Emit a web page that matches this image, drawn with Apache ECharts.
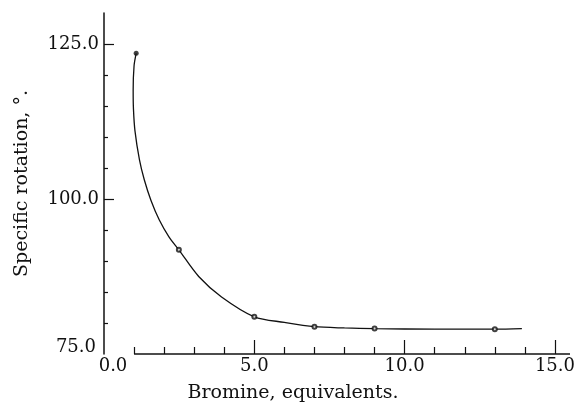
<!DOCTYPE html>
<html>
<head>
<meta charset="utf-8">
<script src="https://cdn.jsdelivr.net/npm/echarts@6/dist/echarts.min.js"></script>
<style>
  html, body { margin: 0; padding: 0; background: #fff; }
  #chart { width: 578px; height: 413px; }
</style>
</head>
<body>
<div id="chart"></div>
<script>
// curve (bromine equivalents vs specific rotation)
const curveX = [1.07, 1.00, 0.97, 0.98, 1.03, 1.18, 1.34, 1.56, 1.84, 2.16, 2.49, 3.15, 3.91, 5.00, 6.00, 7.00, 8.00, 9.00, 11.0, 13.0, 13.9];
const curveY = [123.5, 121.5, 117.5, 114.5, 111.0, 106.3, 103.1, 99.8, 96.6, 93.9, 91.8, 87.5, 84.2, 81.0, 80.1, 79.4, 79.2, 79.1, 79.0, 79.0, 79.1];

// small open circles = measured points
const pointX = [2.49, 5.0, 7.0, 9.0, 13.0];
const pointY = [91.8, 81.0, 79.4, 79.1, 79.0];

// first reading (filled dot at top)
const startPoint = [1.07, 123.5];

// axis ticks / labels
const xLabelValues = [0, 5, 10, 15];
const xMajorTicks = [5, 10, 15];
const xMinorTicks = [1, 2, 3, 4, 6, 7, 8, 9, 11, 12, 13, 14];
const yLabelValues = [75, 100, 125];
const yMajorTicks = [100, 125];
const yMinorTicks = [80, 85, 90, 95, 105, 110, 115, 120];

// x axis baseline starts at 1 equivalent
const xBaseline = [1, 15.5];
const yBase = 75;

const FONT = 'DejaVu Serif';
const INK = '#111';

const chart = echarts.init(document.getElementById('chart'), null, { renderer: 'canvas' });

const commonX = { type: 'value', min: 0, max: 15.5, splitLine: { show: false }, axisLine: { show: false } };
const commonY = { type: 'value', min: 75, max: 130, splitLine: { show: false } };
const labelFont = { fontFamily: FONT, fontSize: 18, color: INK };

const option = {
  backgroundColor: '#fff',
  animation: false,
  grid: { left: 104, right: 0, top: 13, bottom: 59 },
  xAxis: [
    {
      ...commonX,
      name: 'Bromine, equivalents.',
      nameLocation: 'middle',
      nameGap: 30,
      nameTextStyle: { fontFamily: FONT, fontSize: 19, color: INK, padding: [0, 88, 0, 0] },
      axisTick: { show: true, inside: true, length: 7, customValues: xMinorTicks, lineStyle: { color: INK, width: 1.2 } },
      axisLabel: {
        customValues: xLabelValues,
        margin: 3,
        ...labelFont,
        // the 0.0 label sits a little right of the y axis in the original
        formatter: v => v === 0 ? '{z|' + v.toFixed(1) + '}' : v.toFixed(1),
        rich: { z: { ...labelFont, padding: [0, 0, 0, 18] } }
      }
    },
    {
      ...commonX,
      position: 'bottom',
      axisTick: { show: true, inside: true, length: 14, customValues: xMajorTicks, lineStyle: { color: INK, width: 1.2 } },
      axisLabel: { show: false }
    }
  ],
  yAxis: [
    {
      ...commonY,
      name: 'Specific rotation, °.',
      nameLocation: 'middle',
      nameGap: 72,
      nameTextStyle: { fontFamily: FONT, fontSize: 19, color: INK },
      axisLine: { show: true, lineStyle: { color: INK, width: 1.5 } },
      axisTick: { show: true, inside: true, length: 4, customValues: yMinorTicks, lineStyle: { color: INK, width: 1.2 } },
      axisLabel: {
        customValues: yLabelValues,
        margin: 5,
        ...labelFont,
        // 75.0 is printed slightly above the baseline
        formatter: v => v === 75 ? '{b|' + v.toFixed(1) + '}' : v.toFixed(1),
        rich: { b: { ...labelFont, padding: [0, 3, 14, 0] } }
      }
    },
    {
      ...commonY,
      position: 'left',
      axisLine: { show: false },
      axisTick: { show: true, inside: true, length: 10, customValues: yMajorTicks, lineStyle: { color: INK, width: 1.2 } },
      axisLabel: { show: false }
    }
  ],
  series: [
    {
      type: 'line',
      data: curveX.map((x, i) => [x, curveY[i]]),
      smooth: 0.3,
      showSymbol: false,
      lineStyle: { color: INK, width: 1.3 },
      markLine: {
        silent: true,
        symbol: 'none',
        label: { show: false },
        lineStyle: { color: INK, width: 1.5, type: 'solid' },
        data: [[{ coord: [xBaseline[0], yBase] }, { coord: [xBaseline[1], yBase] }]]
      }
    },
    {
      type: 'scatter',
      data: pointX.map((x, i) => [x, pointY[i]]),
      symbol: 'emptyCircle',
      symbolSize: 4,
      z: 5,
      itemStyle: { color: INK, borderColor: INK, borderWidth: 1 }
    },
    {
      type: 'scatter',
      data: [startPoint],
      symbol: 'circle',
      symbolSize: 5,
      z: 5,
      itemStyle: { color: INK }
    }
  ]
};

chart.setOption(option);
</script>
</body>
</html>
